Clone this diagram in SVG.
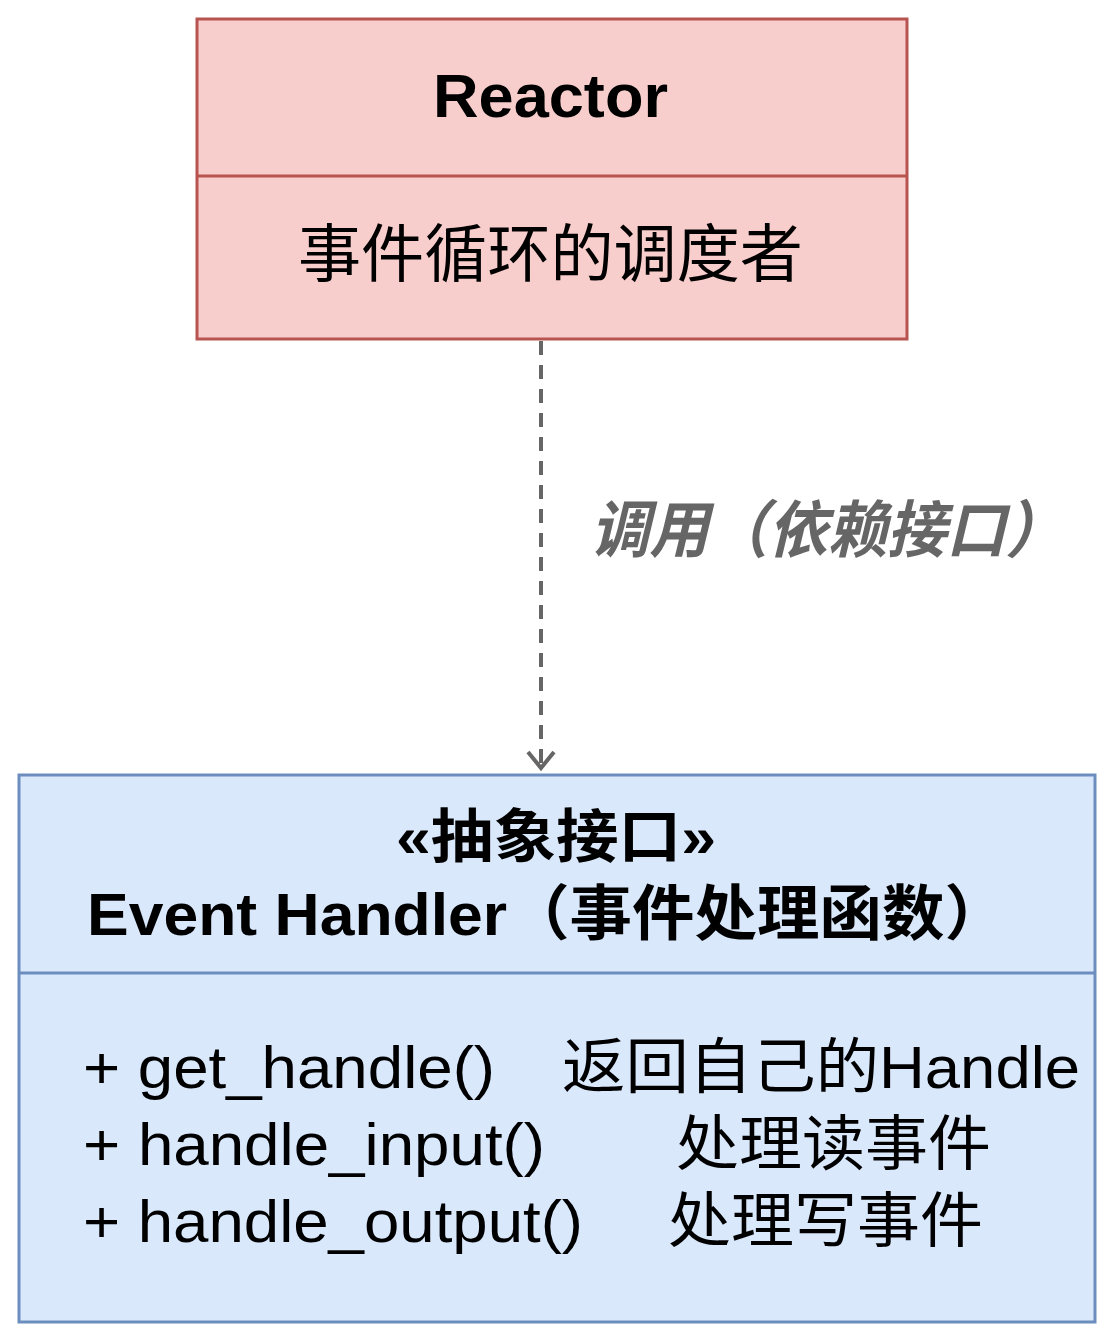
<svg xmlns="http://www.w3.org/2000/svg" width="1115" height="1342" viewBox="0 0 1115 1342">
<style>
text{font-family:"Liberation Sans","Noto Sans CJK SC",sans-serif;fill:#000}
.b{font-weight:bold}
.m{font-size:60px}
</style>
<defs><marker id="ar" markerWidth="32" markerHeight="32" refX="16" refY="26" orient="0" markerUnits="userSpaceOnUse"><path d="M3,10 L16,26 L29,10" fill="none" stroke="#666" stroke-width="4"/></marker></defs>
<rect width="1115" height="1342" fill="#fff"/>
<g id="reactor">
<rect x="197" y="19" width="710" height="320" fill="#f8cecc" stroke="#b85450" stroke-width="3"/>
<line x1="197" y1="176" x2="907" y2="176" stroke="#b85450" stroke-width="3"/>
<text x="433" y="117" class="b" font-size="62" textLength="235" lengthAdjust="spacingAndGlyphs">Reactor</text>
<text x="298" y="276" font-size="63" textLength="505" lengthAdjust="spacingAndGlyphs">事件循环的调度者</text>
</g>
<g id="connectors">
<line x1="541" y1="341" x2="541" y2="768" stroke="#666" stroke-width="4" stroke-dasharray="14,10" marker-end="url(#ar)"/>
<text x="590" y="552" font-size="62" font-style="italic" class="b" style="fill:#666" textLength="475" lengthAdjust="spacingAndGlyphs">调用（依赖接口）</text>
</g>
<g id="eventhandler">
<rect x="19" y="775" width="1076" height="547" fill="#dae8fc" stroke="#6c8ebf" stroke-width="3"/>
<line x1="19" y1="973" x2="1095" y2="973" stroke="#6c8ebf" stroke-width="3"/>
<text x="396" y="857" class="b" font-size="58" textLength="320" lengthAdjust="spacingAndGlyphs">«抽象接口»</text>
<text x="87" y="935" class="b" font-size="60" textLength="920" lengthAdjust="spacingAndGlyphs">Event Handler（事件处理函数）</text>
<text x="83" y="1088" class="m" textLength="412" lengthAdjust="spacingAndGlyphs">+ get_handle()</text>
<text x="562" y="1088" class="m" textLength="518" lengthAdjust="spacingAndGlyphs">返回自己的Handle</text>
<text x="83" y="1165" class="m" textLength="462" lengthAdjust="spacingAndGlyphs">+ handle_input()</text>
<text x="676" y="1165" class="m" textLength="315" lengthAdjust="spacingAndGlyphs">处理读事件</text>
<text x="83" y="1242" class="m" textLength="500" lengthAdjust="spacingAndGlyphs">+ handle_output()</text>
<text x="668" y="1242" class="m" textLength="315" lengthAdjust="spacingAndGlyphs">处理写事件</text>
</g>
</svg>
